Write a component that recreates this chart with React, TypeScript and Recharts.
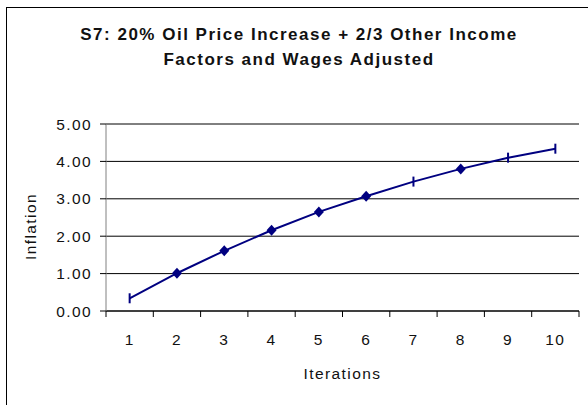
import React from 'react';
import { LineChart, Line, XAxis, YAxis, CartesianGrid } from 'recharts';

// iterations on the x axis, inflation
const iterations = [1, 2, 3, 4, 5, 6, 7, 8, 9, 10];
const inflation = [0.34, 1.01, 1.61, 2.16, 2.65, 3.07, 3.46, 3.8, 4.1, 4.34];
const yTicks = [0, 1, 2, 3, 4, 5];

const data = iterations.map((it, i) => ({ iter: it, inflation: inflation[i] }));
// tick marks sit between the categories, like Excel does it
const boundaries = [iterations[0] - 0.5, ...iterations.map((it) => it + 0.5)];

const FONT = '"Liberation Sans", Arial, sans-serif';
const NAVY = '#000080';
// the original picture draws some markers as a short vertical dash
const dashMarkers = new Set([1, 7, 9, 10]);

const Marker = (props: any) => {
  const { cx, cy, payload } = props;
  if (cx == null || cy == null) return null;
  if (dashMarkers.has(payload.iter)) {
    return <line x1={cx} x2={cx} y1={cy - 5} y2={cy + 5} stroke={NAVY} strokeWidth={2} />;
  }
  return (
    <polygon
      points={`${cx},${cy - 5.5} ${cx + 5},${cy} ${cx},${cy + 5.5} ${cx - 5},${cy}`}
      fill={NAVY}
    />
  );
};

const YLabel = (props: any) => {
  const { viewBox } = props;
  const x = viewBox.x + 36;
  const y = viewBox.y + viewBox.height / 2 + 9;
  return (
    <text
      x={x}
      y={y}
      transform={`rotate(-90, ${x}, ${y})`}
      textAnchor="middle"
      fill="#111"
      style={{ fontFamily: FONT, fontSize: 15.5, letterSpacing: 1.4 }}
    >
      Inflation
    </text>
  );
};

export default function App() {
  const tickStyle = { fontFamily: FONT, fontSize: 15.5, letterSpacing: 1.4, fill: '#111' };
  const xDomain = [boundaries[0], boundaries[boundaries.length - 1]];
  return (
    <div
      style={{
        position: 'absolute',
        left: 0,
        top: 0,
        width: 588,
        height: 405,
        overflow: 'hidden',
        background: '#fff',
      }}
    >
      <div
        style={{
          position: 'absolute',
          left: 6,
          top: 7,
          width: 640,
          height: 440,
          border: '1.5px solid #000',
        }}
      />
      <div
        style={{
          position: 'absolute',
          left: 0,
          top: 22,
          width: 598,
          textAlign: 'center',
          fontFamily: FONT,
          fontWeight: 'bold',
          fontSize: 17,
          letterSpacing: 1.5,
          lineHeight: '25px',
          color: '#111',
        }}
      >
        S7: 20% Oil Price Increase + 2/3 Other Income
        <br />
        Factors and Wages Adjusted
      </div>
      <div style={{ position: 'absolute', left: 0, top: 0 }}>
        <LineChart width={588} height={405} data={data} margin={{ top: 124, right: 9, bottom: 18, left: 0 }}>
          <CartesianGrid vertical={false} stroke="#000" strokeWidth={1} />
          <XAxis
            xAxisId="a"
            dataKey="iter"
            type="number"
            domain={xDomain}
            ticks={boundaries}
            interval={0}
            height={6}
            tickSize={6}
            tickFormatter={() => ''}
            axisLine={{ stroke: '#000' }}
            tickLine={{ stroke: '#000' }}
          />
          <XAxis
            xAxisId="b"
            dataKey="iter"
            type="number"
            domain={xDomain}
            ticks={iterations}
            interval={0}
            height={70}
            tickSize={0}
            tickMargin={17}
            axisLine={false}
            tickLine={false}
            tick={tickStyle}
            label={{ value: 'Iterations', position: 'insideTop', offset: 51, style: tickStyle }}
          />
          <YAxis
            domain={[0, 5]}
            ticks={yTicks}
            interval={0}
            width={106}
            tickSize={6}
            tickMargin={8}
            tickFormatter={(v: number) => v.toFixed(2)}
            tick={tickStyle}
            axisLine={{ stroke: '#808080' }}
            tickLine={{ stroke: '#000' }}
            label={<YLabel />}
          />
          <Line
            xAxisId="a"
            type="linear"
            dataKey="inflation"
            stroke={NAVY}
            strokeWidth={2}
            dot={<Marker />}
            activeDot={false}
            isAnimationActive={false}
          />
        </LineChart>
      </div>
    </div>
  );
}
